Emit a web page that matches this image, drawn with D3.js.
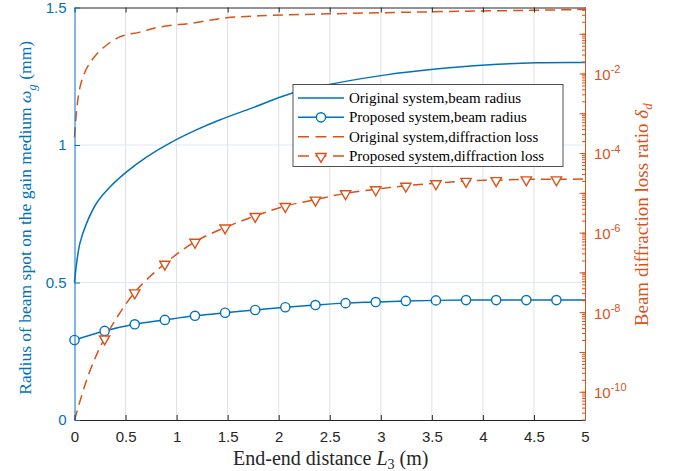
<!DOCTYPE html>
<html>
<head>
<meta charset="utf-8">
<script src="https://cdn.jsdelivr.net/npm/d3@7"></script>
<style>
  body { margin: 0; background: #fff; }
  svg { display: block; }
</style>
</head>
<body>
<div id="chart"></div>
<script>
// x positions (m)
var xTicks = [0, 0.5, 1, 1.5, 2, 2.5, 3, 3.5, 4, 4.5, 5];
var leftTicks = [0, 0.5, 1, 1.5];
var rightTickExps = [-10, -8, -6, -4, -2];

// original system, beam radius (mm)
var origRadiusX = [0, 0.021, 0.054, 0.119, 0.217, 0.347, 0.51, 0.705, 0.933, 1.193, 1.421, 1.743, 2.134, 2.563, 3.052, 3.54, 4.028, 4.517, 5];
var origRadiusY = [0.5, 0.571, 0.644, 0.716, 0.789, 0.847, 0.902, 0.956, 1.007, 1.055, 1.091, 1.135, 1.189, 1.225, 1.255, 1.276, 1.291, 1.299, 1.30];

// marker positions shared by both proposed series
var markerX = [0, 0.295, 0.59, 0.885, 1.18, 1.475, 1.77, 2.065, 2.36, 2.655, 2.95, 3.245, 3.54, 3.835, 4.13, 4.425, 4.72];

// proposed system, beam radius (mm)
var propRadiusX = [0, 0.295, 0.59, 0.885, 1.18, 1.475, 1.77, 2.065, 2.36, 2.655, 2.95, 3.245, 3.54, 3.835, 4.13, 4.425, 4.72, 5];
var propRadiusY = [0.291, 0.324, 0.348, 0.364, 0.379, 0.390, 0.400, 0.410, 0.418, 0.425, 0.429, 0.433, 0.435, 0.436, 0.436, 0.436, 0.436, 0.436];

// original system, diffraction loss ratio
var origLossX = [0, 0.021, 0.054, 0.103, 0.171, 0.278, 0.444, 0.64, 0.835, 1.157, 1.489, 1.811, 2.485, 3.47, 5];
var origLossY = [2.51e-4, 1.20e-3, 4.57e-3, 1.10e-2, 2.19e-2, 4.37e-2, 8.32e-2, 0.110, 0.148, 0.186, 0.251, 0.282, 0.316, 0.355, 0.407];

// proposed system, diffraction loss ratio
var propLossX = [0, 0.14, 0.295, 0.59, 0.885, 1.18, 1.475, 1.77, 2.065, 2.36, 2.655, 2.95, 3.245, 3.54, 3.835, 4.13, 4.425, 4.72, 5];
var propLossY = [1.95e-11, 2.8e-10, 2.19e-9, 3.16e-8, 1.66e-7, 5.89e-7, 1.35e-6, 2.63e-6, 4.68e-6, 6.76e-6, 9.77e-6, 1.23e-5, 1.51e-5, 1.74e-5, 2.0e-5, 2.09e-5, 2.19e-5, 2.19e-5, 2.24e-5];

var legendLabels = ["Original system,beam radius", "Proposed system,beam radius",
                    "Original system,diffraction loss", "Proposed system,diffraction loss"];

function init() {
  var w = 676, h = 471;
  var blue = "#0072BD", orange = "#D95319", dark = "#262626";
  var sans = "'Liberation Sans', Arial, Helvetica, sans-serif";
  var serif = "'Liberation Serif', 'Times New Roman', serif";

  var svg = d3.select("#chart").append("svg")
    .attr("width", w).attr("height", h);

  var xScale = d3.scaleLinear().domain([0, 5]).range([74.5, 585]);
  var yLeft = d3.scaleLinear().domain([0, 1.5]).range([420, 7.5]);
  var yRight = d3.scaleLog().domain([1.95e-11, 0.457]).range([420, 7.5]);

  var pts = function(xs, ys) { return xs.map(function(x, i) { return [x, ys[i]]; }); };

  // grid
  svg.append("g").selectAll("line").data(xTicks.slice(1, -1)).enter().append("line")
    .attr("x1", function(d) { return xScale(d); }).attr("x2", function(d) { return xScale(d); })
    .attr("y1", yLeft(0)).attr("y2", yLeft(1.5))
    .attr("stroke", "#e0e0e0").attr("stroke-width", 1);
  svg.append("g").selectAll("line").data(leftTicks.slice(1, -1)).enter().append("line")
    .attr("x1", xScale(0)).attr("x2", xScale(5))
    .attr("y1", function(d) { return yLeft(d); }).attr("y2", function(d) { return yLeft(d); })
    .attr("stroke", "#dde9f5").attr("stroke-width", 1);

  var curve = d3.curveCatmullRom.alpha(0.5);
  var lineL = d3.line().curve(curve)
    .x(function(d) { return xScale(d[0]); }).y(function(d) { return yLeft(d[1]); });
  var lineR = d3.line().curve(curve)
    .x(function(d) { return xScale(d[0]); }).y(function(d) { return yRight(d[1]); });

  svg.append("path").datum(pts(origRadiusX, origRadiusY))
    .attr("d", lineL).attr("fill", "none").attr("stroke", blue).attr("stroke-width", 1.5);
  svg.append("path").datum(pts(propRadiusX, propRadiusY))
    .attr("d", lineL).attr("fill", "none").attr("stroke", blue).attr("stroke-width", 1.5);
  svg.append("path").datum(pts(origLossX, origLossY))
    .attr("d", lineR).attr("fill", "none").attr("stroke", orange).attr("stroke-width", 1.5)
    .attr("stroke-dasharray", "10,6");
  svg.append("path").datum(pts(propLossX, propLossY))
    .attr("d", lineR).attr("fill", "none").attr("stroke", orange).attr("stroke-width", 1.5)
    .attr("stroke-dasharray", "10,6");

  var isMarker = function(x) { return markerX.indexOf(x) >= 0; };
  var tri = d3.symbol().type(d3.symbolTriangle).size(46);

  svg.append("g").selectAll("circle")
    .data(pts(propRadiusX, propRadiusY).filter(function(d) { return isMarker(d[0]); }))
    .enter().append("circle")
    .attr("cx", function(d) { return xScale(d[0]); })
    .attr("cy", function(d) { return yLeft(d[1]); })
    .attr("r", 4.6).attr("fill", "white").attr("stroke", blue).attr("stroke-width", 1.4);

  svg.append("g").selectAll("path")
    .data(pts(propLossX, propLossY).filter(function(d) { return d[0] > 0 && isMarker(d[0]); }))
    .enter().append("path")
    .attr("d", tri)
    .attr("transform", function(d) {
      return "translate(" + xScale(d[0]) + "," + (yRight(d[1]) + 0.5) + ") rotate(180)";
    })
    .attr("fill", "white").attr("stroke", orange).attr("stroke-width", 1.4);

  // axes
  var xAxis = d3.axisBottom(xScale).tickValues(xTicks).tickSize(-5).tickSizeOuter(0)
    .tickPadding(11).tickFormat(d3.format("~g"));
  var gx = svg.append("g").attr("transform", "translate(0," + yLeft(0) + ")").call(xAxis);
  gx.select(".domain").attr("stroke", dark);
  gx.selectAll(".tick line").attr("stroke", dark);
  gx.selectAll("text").attr("fill", dark).attr("font-family", sans).attr("font-size", "15px");

  var gTop = svg.append("g").attr("transform", "translate(0," + yLeft(1.5) + ")")
    .call(d3.axisTop(xScale).tickValues(xTicks).tickSize(-5).tickSizeOuter(0).tickFormat(""));
  gTop.select(".domain").attr("stroke", dark);
  gTop.selectAll(".tick line").attr("stroke", dark);

  var gy = svg.append("g").attr("transform", "translate(" + xScale(0) + ",0)")
    .call(d3.axisLeft(yLeft).tickValues(leftTicks).tickSize(-5.5).tickSizeOuter(0)
      .tickPadding(8).tickFormat(d3.format("~g")));
  gy.select(".domain").attr("stroke", blue);
  gy.selectAll(".tick line").attr("stroke", blue);
  gy.selectAll("text").attr("fill", blue).attr("font-family", sans).attr("font-size", "15px");

  // right log axis: minor ticks then major ticks
  var minor = [];
  for (var e = -11; e <= 0; e++) {
    for (var k = 1; k <= 9; k++) {
      var v = k * Math.pow(10, e);
      if (v >= yRight.domain()[0] && v <= yRight.domain()[1]) minor.push(v);
    }
  }
  var gMinor = svg.append("g").attr("transform", "translate(" + xScale(5) + ",0)")
    .call(d3.axisRight(yRight).tickValues(minor).tickSize(-3).tickSizeOuter(0).tickFormat(""));
  gMinor.select(".domain").attr("stroke", orange);
  gMinor.selectAll(".tick line").attr("stroke", orange);

  var gr = svg.append("g").attr("transform", "translate(" + xScale(5) + ",0)")
    .call(d3.axisRight(yRight)
      .tickValues(d3.range(-10, 0).map(function(e) { return Math.pow(10, e); }))
      .tickSize(-5.5).tickSizeOuter(0).tickPadding(9).tickFormat(""));
  gr.select(".domain").attr("stroke", orange);
  gr.selectAll(".tick line").attr("stroke", orange);

  var rLab = svg.append("g").selectAll("text").data(rightTickExps).enter().append("text")
    .attr("x", xScale(5) + 9)
    .attr("y", function(d) { return yRight(Math.pow(10, d)); })
    .attr("dy", "0.42em")
    .attr("fill", orange).attr("font-family", sans).attr("font-size", "15px");
  rLab.append("tspan").text("10");
  rLab.append("tspan").attr("font-size", "11px").attr("dy", "-0.62em")
    .text(function(d) { return String(d); });

  // axis titles
  var xl = svg.append("text")
    .attr("x", (xScale(0) + xScale(5)) / 2 + 1).attr("y", 465)
    .attr("text-anchor", "middle").attr("fill", dark)
    .attr("font-family", serif).attr("font-size", "20px");
  xl.append("tspan").text("End-end distance ");
  xl.append("tspan").attr("font-style", "italic").text("L");
  xl.append("tspan").attr("font-size", "14px").attr("dy", "4").text("3");
  xl.append("tspan").attr("dy", "-4").text(" (m)");

  var yl = svg.append("text")
    .attr("transform", "translate(31," + ((yLeft(0) + yLeft(1.5)) / 2 + 4) + ") rotate(-90)")
    .attr("text-anchor", "middle").attr("fill", blue)
    .attr("font-family", serif).attr("font-size", "17.5px");
  yl.append("tspan").text("Radius of beam spot on the gain medium ");
  yl.append("tspan").attr("font-style", "italic").text("ω");
  yl.append("tspan").attr("font-style", "italic").attr("font-size", "13px").attr("dy", "5").text("g");
  yl.append("tspan").attr("dy", "-5").text(" (mm)");

  var yr = svg.append("text")
    .attr("transform", "translate(648," + ((yLeft(0) + yLeft(1.5)) / 2 + 1) + ") rotate(-90)")
    .attr("text-anchor", "middle").attr("fill", orange)
    .attr("font-family", serif).attr("font-size", "19px");
  yr.append("tspan").text("Beam diffraction loss ratio ");
  yr.append("tspan").attr("font-style", "italic").text("δ");
  yr.append("tspan").attr("font-style", "italic").attr("font-size", "13px").attr("dy", "4").text("d");

  // legend
  var lg = svg.append("g").attr("transform", "translate(293,84.5)");
  lg.append("rect").attr("width", 270).attr("height", 82)
    .attr("fill", "white").attr("stroke", dark).attr("stroke-width", 0.8);
  var rowY = d3.scalePoint().domain(legendLabels).range([13.5, 71.5]);
  var item = lg.selectAll("g.item").data(legendLabels).enter().append("g")
    .attr("class", "item")
    .attr("transform", function(d) { return "translate(0," + rowY(d) + ")"; });
  item.append("line").attr("x1", 5).attr("x2", 51).attr("y1", 0).attr("y2", 0)
    .attr("stroke", function(d, i) { return i < 2 ? blue : orange; })
    .attr("stroke-width", 1.5)
    .attr("stroke-dasharray", function(d, i) { return i < 2 ? null : "11,6.5"; });
  item.filter(function(d, i) { return i === 1; }).append("circle")
    .attr("cx", 28).attr("cy", 0).attr("r", 4.6)
    .attr("fill", "white").attr("stroke", blue).attr("stroke-width", 1.4);
  item.filter(function(d, i) { return i === 3; }).append("path")
    .attr("d", tri).attr("transform", "translate(28,0.5) rotate(180)")
    .attr("fill", "white").attr("stroke", orange).attr("stroke-width", 1.4);
  item.append("text").attr("x", 56).attr("dy", "0.33em")
    .attr("fill", "#000").attr("font-family", serif).attr("font-size", "15px")
    .text(function(d) { return d; });
}

window.onload = init;
</script>
</body>
</html>
